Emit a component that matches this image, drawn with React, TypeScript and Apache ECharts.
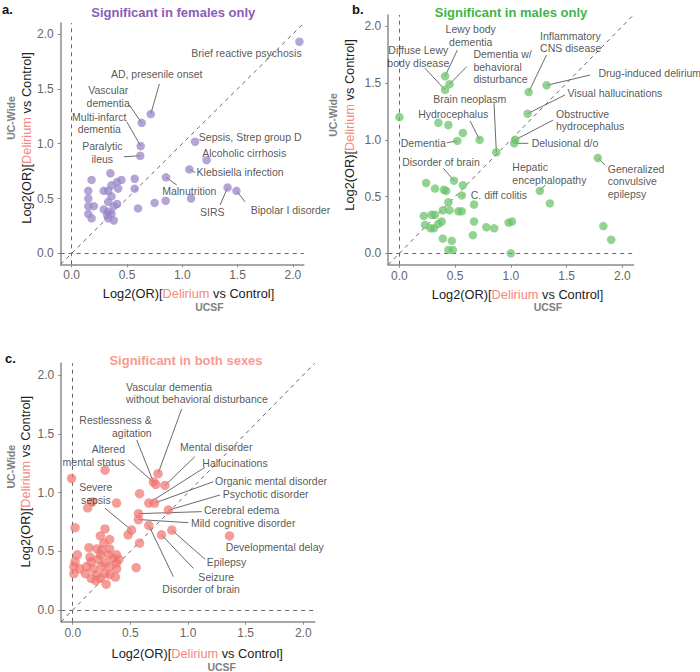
import React, { useEffect, useRef } from 'react';
import * as echarts from 'echarts';

type Pt = [number, number];
type Lab = { text: string; tx: number; ty: number; align: 'left' | 'right' | 'center'; lx?: number; ly?: number };

const FONT = "'Liberation Sans', Arial, Helvetica, sans-serif";
const TICK_VALUES = [0, 0.5, 1, 1.5, 2];
const AXIS_MIN = -0.1;
const AXIS_MAX = 2.1;

// ---------- Panel a: significant in females only ----------
const FEMALE_NAMED_X = [2.06, 0.715, 0.633, 0.624, 0.62, 1.116, 1.22, 1.064, 0.853, 1.41, 1.49];
const FEMALE_NAMED_Y = [1.93, 1.27, 1.19, 0.979, 0.89, 1.018, 0.85, 0.766, 0.693, 0.6, 0.57];
const FEMALE_OTHER: Pt[] = [
  [1.08, 0.5], [0.85, 0.48], [0.75, 0.46], [0.6, 0.41],
  [0.18, 0.67], [0.35, 0.73], [0.45, 0.67], [0.57, 0.68], [0.41, 0.65], [0.36, 0.62], [0.42, 0.59],
  [0.57, 0.59], [0.15, 0.57], [0.29, 0.57], [0.33, 0.57], [0.15, 0.5], [0.36, 0.52], [0.33, 0.47],
  [0.15, 0.43], [0.2, 0.43], [0.29, 0.4], [0.33, 0.38], [0.38, 0.43], [0.41, 0.45], [0.15, 0.36],
  [0.32, 0.35], [0.36, 0.36], [0.18, 0.32], [0.33, 0.32], [0.38, 0.3],
];
const FEMALE_LABELS: Lab[] = [
  { text: 'Brief reactive psychosis', tx: 2.08, ty: 1.83, align: 'right' },
  { text: 'AD, presenile onset', tx: 0.769, ty: 1.636, align: 'center', lx: 0.793, ly: 1.545 },
  { text: 'Vascular\ndementia', tx: 0.33, ty: 1.429, align: 'center', lx: 0.521, ly: 1.353 },
  { text: 'Multi-infarct\ndementia', tx: 0.249, ty: 1.189, align: 'center', lx: 0.498, ly: 1.2 },
  { text: 'Paralytic\nileus', tx: 0.277, ty: 0.92, align: 'center', lx: 0.473, ly: 0.881 },
  { text: 'Sepsis, Strep group D', tx: 1.15, ty: 1.06, align: 'left' },
  { text: 'Alcoholic cirrhosis', tx: 1.18, ty: 0.915, align: 'left' },
  { text: 'Klebsiella infection', tx: 1.13, ty: 0.74, align: 'left', lx: 1.116, ly: 0.737 },
  { text: 'Malnutrition', tx: 1.064, ty: 0.565, align: 'center', lx: 0.95, ly: 0.623 },
  { text: 'SIRS', tx: 1.272, ty: 0.374, align: 'center', lx: 1.342, ly: 0.44 },
  { text: 'Bipolar I disorder', tx: 1.62, ty: 0.395, align: 'left', lx: 1.568, ly: 0.47 },
];

// ---------- Panel b: significant in males only ----------
const MALE_NAMED_X = [0.41, 0.41, 0.45, 1.16, 1.32, 1.15, 1.04, 1.03, 0.87, 0.72, 0.52, 1.78, 0.49, 1.26, 0.56];
const MALE_NAMED_Y = [1.56, 1.44, 1.49, 1.42, 1.48, 1.23, 1.0, 0.97, 0.89, 1.0, 0.99, 0.84, 0.64, 0.55, 0.51];
const MALE_OTHER: Pt[] = [
  [0.0, 1.2], [0.35, 1.15], [0.44, 1.13], [0.57, 1.06], [1.35, 0.44], [1.83, 0.24], [1.9, 0.12], [1.0, 0.0],
  [0.24, 0.62], [0.32, 0.57], [0.4, 0.56], [0.42, 0.55], [0.57, 0.6], [0.44, 0.45], [0.67, 0.43],
  [0.39, 0.38], [0.45, 0.38], [0.53, 0.37], [0.56, 0.37], [0.22, 0.33], [0.29, 0.34], [0.32, 0.34],
  [0.38, 0.28], [0.35, 0.26], [0.23, 0.25], [0.31, 0.22], [0.28, 0.22], [0.67, 0.28], [0.78, 0.23],
  [0.85, 0.22], [0.98, 0.27], [1.01, 0.28], [0.66, 0.16], [0.39, 0.13], [0.47, 0.11], [0.44, 0.03], [0.48, 0.03],
];
const MALE_LABELS: Lab[] = [
  { text: 'Lewy body\ndementia', tx: 0.64, ty: 1.919, align: 'center', lx: 0.52, ly: 1.79 },
  { text: 'Diffuse Lewy\nbody disease', tx: 0.17, ty: 1.732, align: 'center', lx: 0.23, ly: 1.63 },
  { text: 'Dementia w/\nbehavioral\ndisturbance', tx: 0.664, ty: 1.642, align: 'left', lx: 0.604, ly: 1.644 },
  { text: 'Inflammatory\nCNS disease', tx: 1.262, ty: 1.86, align: 'left', lx: 1.32, ly: 1.747 },
  { text: 'Drug-induced delirium', tx: 1.785, ty: 1.586, align: 'left', lx: 1.71, ly: 1.57 },
  { text: 'Visual hallucinations', tx: 1.507, ty: 1.41, align: 'left', lx: 1.486, ly: 1.395 },
  { text: 'Obstructive\nhydrocephalus', tx: 1.405, ty: 1.174, align: 'left', lx: 1.38, ly: 1.174 },
  { text: 'Delusional d/o', tx: 1.187, ty: 0.969, align: 'left', lx: 1.157, ly: 0.969 },
  { text: 'Brain neoplasm', tx: 0.631, ty: 1.357, align: 'center', lx: 0.849, ly: 1.32 },
  { text: 'Hydrocephalus', tx: 0.483, ty: 1.225, align: 'center', lx: 0.634, ly: 1.166 },
  { text: 'Dementia', tx: 0.416, ty: 0.969, align: 'right', lx: 0.425, ly: 0.974 },
  { text: 'Generalized\nconvulsive\nepilepsy', tx: 1.869, ty: 0.636, align: 'left', lx: 1.845, ly: 0.778 },
  { text: 'Disorder of brain', tx: 0.373, ty: 0.807, align: 'center', lx: 0.395, ly: 0.749 },
  { text: 'Hepatic\nencephalopathy', tx: 1.013, ty: 0.705, align: 'left', lx: 1.307, ly: 0.602 },
  { text: 'C. diff colitis', tx: 0.64, ty: 0.514, align: 'left', lx: 0.574, ly: 0.514 },
];

// ---------- Panel c: significant in both sexes ----------
const BOTH_NAMED_X = [0.74, 0.7, 0.72, 0.8, 0.66, 0.71, 0.83, 0.57, 0.57, 0.51, 1.36, 0.86, 0.77, 0.66];
const BOTH_NAMED_Y = [1.16, 1.09, 1.07, 1.06, 0.91, 0.91, 0.85, 0.82, 0.77, 0.68, 0.63, 0.68, 0.64, 0.72];
const BOTH_OTHER: Pt[] = [
  [-0.01, 1.12], [0.28, 1.19], [0.58, 0.99], [0.38, 0.91], [0.13, 0.87], [0.17, 0.92], [0.02, 0.7],
  [0.28, 0.69], [0.48, 0.64], [0.58, 0.57], [0.55, 0.36],
  [0.24, 0.63], [0.32, 0.6], [0.27, 0.57], [0.14, 0.53], [0.21, 0.52], [0.25, 0.51], [0.32, 0.52],
  [0.04, 0.47], [0.15, 0.45], [0.24, 0.47], [0.31, 0.47], [0.38, 0.47], [0.35, 0.44], [0.4, 0.43],
  [0.02, 0.41], [0.16, 0.41], [0.22, 0.43], [0.28, 0.4], [0.32, 0.37], [0.01, 0.37], [0.06, 0.35],
  [0.12, 0.37], [0.18, 0.35], [0.25, 0.37], [0.38, 0.35], [0.01, 0.31], [0.11, 0.31], [0.21, 0.3],
  [0.28, 0.31], [0.32, 0.3], [0.16, 0.27], [0.24, 0.27], [0.37, 0.28], [0.29, 0.22], [0.2, 0.25], [0.38, 0.4],
];
const BOTH_LABELS: Lab[] = [
  { text: 'Vascular dementia\nwithout behavioral disturbance', tx: 0.462, ty: 1.847, align: 'left', lx: 0.945, ly: 1.711 },
  { text: 'Restlessness &\nagitation', tx: 0.685, ty: 1.56, align: 'right', lx: 0.555, ly: 1.447 },
  { text: 'Altered\nmental status', tx: 0.454, ty: 1.317, align: 'right', lx: 0.482, ly: 1.277 },
  { text: 'Mental disorder', tx: 0.931, ty: 1.385, align: 'left', lx: 1.06, ly: 1.305 },
  { text: 'Hallucinations', tx: 1.124, ty: 1.248, align: 'left', lx: 1.147, ly: 1.214 },
  { text: 'Organic mental disorder', tx: 1.234, ty: 1.1, align: 'left', lx: 1.22, ly: 1.092 },
  { text: 'Psychotic disorder', tx: 1.301, ty: 0.985, align: 'left', lx: 1.278, ly: 0.979 },
  { text: 'Cerebral edema', tx: 1.139, ty: 0.851, align: 'left', lx: 1.119, ly: 0.837 },
  { text: 'Mild cognitive disorder', tx: 1.026, ty: 0.743, align: 'left', lx: 1.003, ly: 0.743 },
  { text: 'Severe\nsepsis', tx: 0.2, ty: 0.993, align: 'center', lx: 0.28, ly: 0.866 },
  { text: 'Developmental delay', tx: 1.327, ty: 0.534, align: 'left' },
  { text: 'Epilepsy', tx: 1.162, ty: 0.411, align: 'left', lx: 1.15, ly: 0.43 },
  { text: 'Seizure', tx: 1.09, ty: 0.278, align: 'left', lx: 1.046, ly: 0.355 },
  { text: 'Disorder of brain', tx: 0.777, ty: 0.179, align: 'left', lx: 0.873, ly: 0.283 },
];

const PANELS = [
  {
    grid: { left: 60.65, top: 23.1, width: 243.2, height: 241.2 },
    namedX: FEMALE_NAMED_X, namedY: FEMALE_NAMED_Y, other: FEMALE_OTHER, labels: FEMALE_LABELS,
    color: 'rgba(150,132,200,0.9)', size: 8.5,
  },
  {
    grid: { left: 388.2, top: 14.9, width: 245.3, height: 249.8 },
    namedX: MALE_NAMED_X, namedY: MALE_NAMED_Y, other: MALE_OTHER, labels: MALE_LABELS,
    color: 'rgba(104,194,104,0.9)', size: 8.5,
  },
  {
    grid: { left: 61.2, top: 363.25, width: 253.6, height: 258.5 },
    namedX: BOTH_NAMED_X, namedY: BOTH_NAMED_Y, other: BOTH_OTHER, labels: BOTH_LABELS,
    color: 'rgba(240,118,112,0.9)', size: 9.5,
  },
];

function axisCommon(i: number, isY: boolean) {
  return {
    type: 'value',
    gridIndex: i,
    min: AXIS_MIN,
    max: AXIS_MAX,
    axisLine: { show: true, onZero: false, lineStyle: { color: '#8c8c8c', width: 1.5 } },
    axisTick: { show: true, length: 3, customValues: TICK_VALUES, lineStyle: { color: '#8c8c8c' } },
    axisLabel: {
      customValues: TICK_VALUES,
      formatter: (v: number) => v.toFixed(1),
      color: '#666',
      fontSize: 12,
      fontFamily: FONT,
      margin: isY ? 7 : 5,
    },
    splitLine: { show: false },
  };
}

function buildSeries() {
  const series: any[] = [];
  PANELS.forEach((p, i) => {
    const named: Pt[] = p.namedX.map((x, k) => [x, p.namedY[k]]);
    series.push({
      type: 'lines', coordinateSystem: 'cartesian2d', xAxisIndex: i, yAxisIndex: i, z: 1, silent: true,
      lineStyle: { color: '#666', width: 1, type: [4, 4], opacity: 1 },
      data: [
        { coords: [[0, AXIS_MIN], [0, AXIS_MAX]] },
        { coords: [[AXIS_MIN, 0], [AXIS_MAX, 0]] },
        { coords: [[AXIS_MIN, AXIS_MIN], [AXIS_MAX, AXIS_MAX]] },
      ],
    });
    series.push({
      type: 'lines', coordinateSystem: 'cartesian2d', xAxisIndex: i, yAxisIndex: i, z: 2, silent: true,
      lineStyle: { color: '#444', width: 0.8, opacity: 1 },
      data: p.labels
        .map((l, k) => (l.lx != null ? { coords: [[l.lx, l.ly], named[k]] } : null))
        .filter((d) => d != null),
    });
    series.push({
      type: 'scatter', xAxisIndex: i, yAxisIndex: i, z: 3, silent: true,
      symbolSize: p.size,
      itemStyle: { color: p.color },
      data: [...p.other, ...named],
    });
    series.push({
      type: 'scatter', xAxisIndex: i, yAxisIndex: i, z: 4, silent: true,
      symbolSize: 1,
      itemStyle: { color: 'rgba(0,0,0,0)' },
      label: {
        show: true, position: 'inside', formatter: '{b}', color: '#2a2a2a',
        fontSize: 10.5, fontFamily: FONT, lineHeight: 12.5, verticalAlign: 'middle',
      },
      data: p.labels.map((l) => ({ name: l.text, value: [l.tx, l.ty], label: { align: l.align } })),
    });
  });
  return series;
}

function xTitle(x: number, y: number) {
  return {
    type: 'text', x, y, silent: true,
    style: {
      text: '{k|Log2(OR)[}{r|Delirium}{k| vs Control]}',
      align: 'center', verticalAlign: 'middle',
      rich: {
        k: { fill: '#222', fontSize: 12.8, fontFamily: FONT },
        r: { fill: '#f4877e', fontSize: 12.8, fontFamily: FONT },
      },
    },
  };
}
function yTitle(x: number, y: number) {
  return { ...xTitle(x, y), rotation: Math.PI / 2 };
}
function greyText(text: string, x: number, y: number, rot = 0) {
  return {
    type: 'text', x, y, rotation: rot, silent: true,
    style: { text, fill: '#808080', fontSize: 10.5, fontWeight: 'bold', fontFamily: FONT, align: 'center', verticalAlign: 'middle' },
  };
}
function heading(text: string, x: number, y: number, color: string, align = 'center') {
  return {
    type: 'text', x, y, silent: true,
    style: { text, fill: color, fontSize: 13, fontWeight: 'bold', fontFamily: FONT, align, verticalAlign: 'middle' },
  };
}

const option: any = {
  animation: false,
  backgroundColor: '#ffffff',
  grid: PANELS.map((p) => ({ ...p.grid, containLabel: false })),
  xAxis: PANELS.map((_, i) => axisCommon(i, false)),
  yAxis: PANELS.map((_, i) => axisCommon(i, true)),
  series: buildSeries(),
  graphic: [
    heading('a.', 2, 9, '#111', 'left'),
    heading('Significant in females only', 173.3, 12.7, '#8b5cb8'),
    xTitle(188.5, 293),
    greyText('UCSF', 209.5, 307),
    yTitle(26.7, 138),
    greyText('UC-Wide', 10.7, 118, Math.PI / 2),

    heading('b.', 352, 9, '#111', 'left'),
    heading('Significant in males only', 511, 12.7, '#3db54a'),
    xTitle(517.5, 294),
    greyText('UCSF', 548, 307),
    yTitle(349, 125),
    greyText('UC-Wide', 333, 115, Math.PI / 2),

    heading('c.', 5, 358, '#111', 'left'),
    heading('Significant in both sexes', 186, 360.7, '#f79b90'),
    xTitle(197.2, 653.3),
    greyText('UCSF', 221.7, 666.7),
    yTitle(25, 481.7),
    greyText('UC-Wide', 11, 466.7, Math.PI / 2),
  ],
};

export default function App() {
  const ref = useRef<HTMLDivElement>(null);
  useEffect(() => {
    if (!ref.current) return;
    const chart = echarts.init(ref.current, null, { renderer: 'svg' });
    chart.setOption(option);
    return () => chart.dispose();
  }, []);
  return (
    <div
      ref={ref}
      style={{ position: 'absolute', left: 0, top: 0, width: 700, height: 672, background: '#fff' }}
    />
  );
}
